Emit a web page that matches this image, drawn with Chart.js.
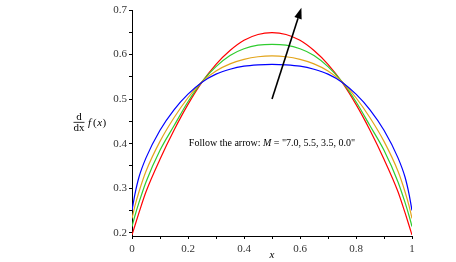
<!DOCTYPE html>
<html>
<head>
<meta charset="utf-8">
<script src="https://cdn.jsdelivr.net/npm/chart.js@4/dist/chart.umd.min.js"></script>
<style>
  html, body { margin: 0; padding: 0; background: #fff; }
  #wrap { width: 456px; height: 262px; }
</style>
</head>
<body>
<div id="wrap"><canvas id="c" width="456" height="262"></canvas></div>
<script>
// ---- data ----
const xs         = [0, 0.01, 0.025, 0.05, 0.1, 0.15, 0.2, 0.25, 0.3, 0.35, 0.4, 0.45, 0.5, 0.55, 0.6, 0.65, 0.7, 0.75, 0.8, 0.85, 0.9, 0.95, 0.975, 0.99, 1];
const redVals    = [0.195, 0.215, 0.245, 0.292, 0.365, 0.430, 0.488, 0.538, 0.578, 0.609, 0.632, 0.645, 0.649, 0.645, 0.632, 0.609, 0.578, 0.538, 0.488, 0.430, 0.365, 0.292, 0.245, 0.215, 0.195];
const greenVals  = [0.214, 0.237, 0.268, 0.314, 0.385, 0.440, 0.494, 0.539, 0.573, 0.598, 0.613, 0.621, 0.623, 0.621, 0.613, 0.598, 0.573, 0.539, 0.494, 0.440, 0.385, 0.314, 0.268, 0.237, 0.214];
const orangeVals = [0.232, 0.259, 0.292, 0.338, 0.405, 0.458, 0.503, 0.539, 0.563, 0.579, 0.589, 0.595, 0.597, 0.595, 0.589, 0.579, 0.563, 0.539, 0.503, 0.458, 0.405, 0.338, 0.292, 0.259, 0.232];
const blueVals   = [0.250, 0.285, 0.325, 0.368, 0.430, 0.476, 0.511, 0.538, 0.556, 0.567, 0.574, 0.577, 0.578, 0.577, 0.574, 0.567, 0.556, 0.538, 0.511, 0.476, 0.430, 0.368, 0.325, 0.285, 0.250];

const xTicks = [0, 0.1, 0.2, 0.3, 0.4, 0.5, 0.6, 0.7, 0.8, 0.9, 1];
const xLabels = {0: '0', 0.2: '0.2', 0.4: '0.4', 0.6: '0.6', 0.8: '0.8', 1: '1'};
const yTicks = [0.2, 0.25, 0.3, 0.35, 0.4, 0.45, 0.5, 0.55, 0.6, 0.65, 0.7];
const yLabels = {0.2: '0.2', 0.3: '0.3', 0.4: '0.4', 0.5: '0.5', 0.6: '0.6', 0.7: '0.7'};
const xRange = [0, 1];
const yRange = [0.1926, 0.7];

const noteText = 'Follow the arrow: ';
const noteM = 'M';
const noteRest = ' = "7.0, 5.5, 3.5, 0.0"';
const notePos = [0.5, 0.4];
const arrowFrom = [0.5, 0.5];
const arrowTo = [0.605, 0.705];

const SERIF = "'Liberation Serif', 'DejaVu Serif', serif";

function pts(vals) { return xs.map((x, i) => ({x: x, y: vals[i]})); }
function key(v) { return Math.round(v * 100) / 100; }

const overlay = {
  id: 'overlay',
  afterDraw(chart) {
    const ctx = chart.ctx;
    const xs_ = chart.scales.x, ys_ = chart.scales.y;
    ctx.save();
    // note text
    ctx.fillStyle = '#000';
    ctx.textBaseline = 'middle';
    const fN = '10px ' + SERIF, fI = 'italic 10px ' + SERIF;
    ctx.font = fN; const w1 = ctx.measureText(noteText).width;
    const w3 = ctx.measureText(noteRest).width;
    ctx.font = fI; const w2 = ctx.measureText(noteM).width;
    const tw = w1 + w2 + w3;
    let tx = xs_.getPixelForValue(notePos[0]) - tw / 2;
    const ty = ys_.getPixelForValue(notePos[1]);
    ctx.textAlign = 'left';
    ctx.font = fN; ctx.fillText(noteText, tx, ty); tx += w1;
    ctx.font = fI; ctx.fillText(noteM, tx, ty); tx += w2;
    ctx.font = fN; ctx.fillText(noteRest, tx, ty);

    // arrow
    const x0 = xs_.getPixelForValue(arrowFrom[0]), y0 = ys_.getPixelForValue(arrowFrom[1]);
    const x1 = xs_.getPixelForValue(arrowTo[0]), y1 = ys_.getPixelForValue(arrowTo[1]);
    const ang = Math.atan2(y1 - y0, x1 - x0);
    const hl = 11, hw = 3.8;
    const bx = x1 - hl * Math.cos(ang), by = y1 - hl * Math.sin(ang);
    ctx.strokeStyle = '#000'; ctx.lineWidth = 1.6;
    ctx.beginPath(); ctx.moveTo(x0, y0); ctx.lineTo(bx, by); ctx.stroke();
    ctx.beginPath();
    ctx.moveTo(x1, y1);
    ctx.lineTo(bx + hw * Math.sin(ang), by - hw * Math.cos(ang));
    ctx.lineTo(bx - hw * Math.sin(ang), by + hw * Math.cos(ang));
    ctx.closePath(); ctx.fill();

    // y axis title: d/dx f(x)
    const cy = (ys_.getPixelForValue(0.5) + ys_.getPixelForValue(0.4)) / 2 + 0.5;
    const fx = 79;
    ctx.textAlign = 'center';
    ctx.font = '11px ' + SERIF;
    ctx.textBaseline = 'alphabetic';
    ctx.fillText('d', fx, cy - 2);
    ctx.fillText('dx', fx, cy + 9);
    ctx.lineWidth = 0.8;
    ctx.beginPath(); ctx.moveTo(fx - 5.5, cy + 0.5); ctx.lineTo(fx + 5.5, cy + 0.5); ctx.stroke();
    ctx.textAlign = 'left';
    ctx.textBaseline = 'middle';
    let px = 88;
    const parts = [['f', true], ['(', false], ['x', true], [')', false]];
    for (const [s, it] of parts) {
      ctx.font = (it ? 'italic ' : '') + '11px ' + SERIF;
      ctx.fillText(s, px, cy + 1);
      px += ctx.measureText(s).width + (s === 'f' ? 2 : 0.5);
    }
    ctx.restore();
  }
};

const axisCommon = {
  grid: { display: true, drawOnChartArea: false, drawTicks: true, tickLength: 3, color: '#000', lineWidth: 1 },
  border: { display: true, color: '#000', width: 1 },
};

new Chart(document.getElementById('c'), {
  type: 'line',
  data: {
    datasets: [
      { data: pts(blueVals),   borderColor: '#0000ff' },
      { data: pts(orangeVals), borderColor: '#e3a51c' },
      { data: pts(greenVals),  borderColor: '#2fcc2f' },
      { data: pts(redVals),    borderColor: '#ff0000' },
    ]
  },
  options: {
    responsive: false,
    animation: false,
    devicePixelRatio: 1,
    layout: { padding: { left: 0, right: 44, top: 10, bottom: 0 } },
    elements: {
      point: { radius: 0 },
      line: { borderWidth: 1.2, cubicInterpolationMode: 'monotone', fill: false }
    },
    plugins: { legend: { display: false }, tooltip: { enabled: false } },
    scales: {
      x: Object.assign({}, axisCommon, {
        type: 'linear', min: xRange[0], max: xRange[1],
        afterBuildTicks(s) { s.ticks = xTicks.map(v => ({value: v})); },
        afterFit(s) { s.height = 26; },
        ticks: {
          autoSkip: false, maxRotation: 0, padding: 4,
          color: '#333', font: { family: SERIF, size: 11 },
          callback: (v) => xLabels[key(v)] !== undefined ? xLabels[key(v)] : ''
        },
        title: { display: true, text: 'x', color: '#000', padding: { top: 0, bottom: 0 },
                 font: { family: SERIF, size: 11, style: 'italic' } }
      }),
      y: Object.assign({}, axisCommon, {
        type: 'linear', min: yRange[0], max: yRange[1],
        afterBuildTicks(s) { s.ticks = yTicks.map(v => ({value: v})); },
        afterFit(s) { s.width = 132; },
        ticks: {
          autoSkip: false, padding: 2,
          color: '#333', font: { family: SERIF, size: 11 },
          callback: (v) => yLabels[key(v)] !== undefined ? yLabels[key(v)] : ''
        }
      })
    }
  },
  plugins: [overlay]
});
</script>
</body>
</html>
